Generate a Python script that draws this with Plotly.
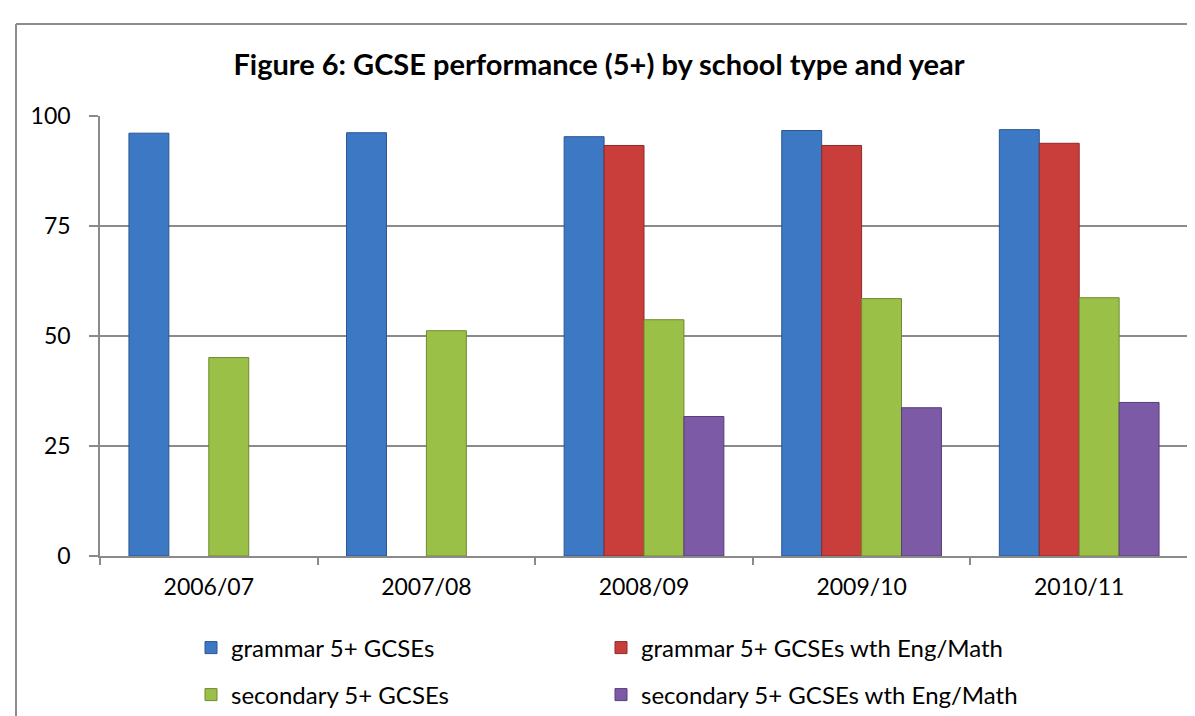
import plotly.graph_objects as go

years = ["2006/07", "2007/08", "2008/09", "2009/10", "2010/11"]
grammar_5 = [96.1, 96.2, 95.3, 96.7, 96.9]
grammar_5_em = [None, None, 93.3, 93.3, 93.8]
secondary_5 = [45.1, 51.2, 53.7, 58.5, 58.7]
secondary_5_em = [None, None, 31.7, 33.7, 34.9]

series_names = [
    "grammar 5+ GCSEs",
    "grammar 5+ GCSEs wth Eng/Math",
    "secondary 5+ GCSEs",
    "secondary 5+ GCSEs wth Eng/Math",
]
y_ticks = [0, 25, 50, 75, 100]

FONT = "Lato, 'Open Sans', sans-serif"
GRID = "#8a8a8a"

colors = ["#3C78C4", "#C93D3B", "#9BC047", "#7D5AA6"]
edges = ["#2A5690", "#8E2A29", "#6E8A30", "#573E7A"]
values = [grammar_5, grammar_5_em, secondary_5, secondary_5_em]
legend_ids = ["legend", "legend2", "legend3", "legend4"]

fig = go.Figure()
for name, vals, c, e, lg in zip(series_names, values, colors, edges, legend_ids):
    fig.add_trace(go.Bar(
        x=years, y=vals, name=name,
        marker=dict(color=c, line=dict(color=e, width=1)),
        legend=lg,
    ))

W, H = 1195, 716
L, R, T, B = 92, 15, 108, 168
pw, ph = W - L - R, H - T - B

def px(xp):
    return (xp - L) / pw

def py(yp):
    return (H - B - yp) / ph

def legend_at(xp, yp):
    return dict(
        orientation="h",
        xanchor="left", yanchor="middle",
        x=px(xp), y=py(yp),
        font=dict(family=FONT, size=24, color="#000000"),
        bgcolor="rgba(0,0,0,0)",
        itemclick=False,
    )

col_x = [183, 593]
row_y = [640, 687]

fig.update_layout(
    width=W, height=H,
    margin=dict(l=L, r=R, t=T, b=B, autoexpand=False),
    paper_bgcolor="white",
    plot_bgcolor="white",
    barmode="group",
    bargap=0.266,
    bargroupgap=0,
    font=dict(family=FONT, color="#000000"),
    title=dict(
        text="<b>Figure 6: GCSE performance (5+) by school type and year</b>",
        x=591 / W, xanchor="center",
        y=1 - 57 / H, yanchor="middle",
        font=dict(family=FONT, size=29, color="#000000"),
    ),
    legend=legend_at(col_x[0], row_y[0]),
    legend2=legend_at(col_x[1], row_y[0]),
    legend3=legend_at(col_x[0], row_y[1]),
    legend4=legend_at(col_x[1], row_y[1]),
    showlegend=True,
    xaxis=dict(
        showline=True, linecolor=GRID, linewidth=1.5,
        ticks="outside", tickson="boundaries", ticklen=7,
        tickcolor=GRID, tickwidth=1.5,
        tickfont=dict(family=FONT, size=23, color="#000000"),
        ticklabelstandoff=10,
        showgrid=False,
    ),
    yaxis=dict(
        range=[0, 100], tickvals=y_ticks,
        showline=True, linecolor=GRID, linewidth=1.5,
        ticks="outside", ticklen=9, tickcolor=GRID, tickwidth=1.5,
        showgrid=True, gridcolor=GRID, gridwidth=1.5,
        zeroline=False,
        tickfont=dict(family=FONT, size=23, color="#000000"),
        ticklabelstandoff=14,
    ),
    shapes=[
        dict(type="line", xref="paper", yref="paper",
             x0=px(8), x1=px(1210), y0=py(16), y1=py(16),
             line=dict(color="#8c8c8c", width=2)),
        dict(type="line", xref="paper", yref="paper",
             x0=px(8), x1=px(8), y0=py(16), y1=py(730),
             line=dict(color="#8c8c8c", width=2)),
    ],
)

fig.write_html("out.html")
